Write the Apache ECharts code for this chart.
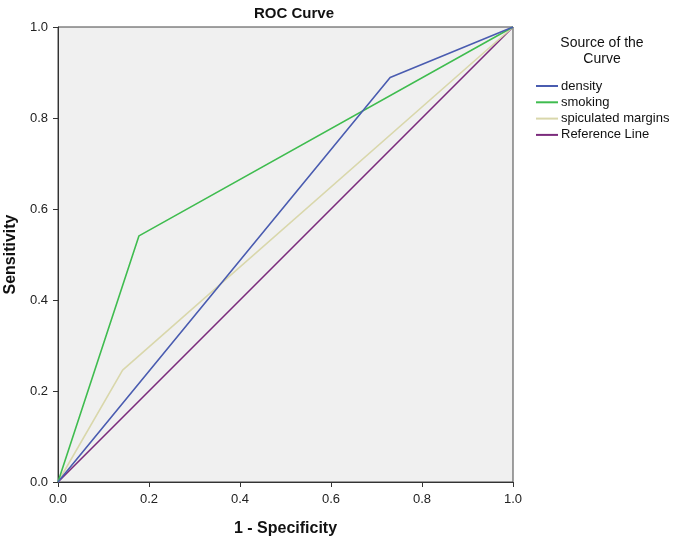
<!DOCTYPE html>
<html>
<head>
<meta charset="utf-8">
<script src="https://cdn.jsdelivr.net/npm/echarts@6/dist/echarts.min.js"></script>
<style>html,body{margin:0;padding:0;background:#fff;}#c{width:675px;height:549px;}</style>
</head>
<body>
<div id="c"></div>
<script>
var seriesNames = ['density', 'smoking', 'spiculated margins', 'Reference Line'];
var densityX = [0, 0.730, 1];
var densityY = [0, 0.889, 1];
var smokingX = [0, 0.178, 1];
var smokingY = [0, 0.541, 1];
var spicX = [0, 0.142, 1];
var spicY = [0, 0.246, 1];
var refX = [0, 1];
var refY = [0, 1];
var colors = ['#4a5cb0', '#3fbc4f', '#d9d7ab', '#7b2b7c'];

function pts(xs, ys) { return xs.map(function (x, i) { return [x, ys[i]]; }); }

var chart = echarts.init(document.getElementById('c'));
var font = 'Arial, "Liberation Sans", sans-serif';
var data = [pts(densityX, densityY), pts(smokingX, smokingY), pts(spicX, spicY), pts(refX, refY)];
chart.setOption({
  animation: false,
  backgroundColor: '#ffffff',
  title: {
    text: 'ROC Curve', left: 289, top: 1, textAlign: 'center',
    textStyle: { fontFamily: font, fontSize: 15, fontWeight: 'bold', color: '#111' }
  },
  grid: { left: 58, top: 27, width: 455, height: 455, outerBoundsMode: 'none', containLabel: false, show: true, backgroundColor: '#f0f0f0', borderColor: '#444', borderWidth: 1 },
  xAxis: {
    type: 'value', min: 0, max: 1, interval: 0.2,
    name: '1 - Specificity', nameLocation: 'middle', nameGap: 39,
    nameTextStyle: { fontFamily: font, fontSize: 16, fontWeight: 'bold', color: '#111' },
    axisLine: { show: true, lineStyle: { color: '#333', width: 1 } },
    axisTick: { show: true, length: 5, lineStyle: { color: '#333' } },
    splitLine: { show: false },
    axisLabel: { fontFamily: font, fontSize: 13, color: '#222', margin: 11, formatter: function (v) { return v.toFixed(1); } }
  },
  yAxis: {
    type: 'value', min: 0, max: 1, interval: 0.2,
    name: 'Sensitivity', nameLocation: 'middle', nameGap: 34, nameRotate: 90,
    nameTextStyle: { fontFamily: font, fontSize: 16, fontWeight: 'bold', color: '#111' },
    axisLine: { show: true, lineStyle: { color: '#333', width: 1 } },
    axisTick: { show: true, length: 5, lineStyle: { color: '#333' } },
    splitLine: { show: false },
    axisLabel: { fontFamily: font, fontSize: 13, color: '#222', margin: 10, formatter: function (v) { return v.toFixed(1); } }
  },
  legend: {
    orient: 'vertical', left: 536, top: 78, itemGap: 0.3, padding: 0,
    icon: 'rect', itemWidth: 22, itemHeight: 2,
    data: seriesNames,
    textStyle: { fontFamily: font, fontSize: 13, color: '#111', height: 16, lineHeight: 16, padding: [0, 0, 0, -2] }
  },
  graphic: [{
    type: 'text', x: 602, y: 35,
    style: { text: 'Source of the\nCurve', fontFamily: font, fontSize: 14, fill: '#111', align: 'center', lineHeight: 16 }
  }],
  series: seriesNames.map(function (n, i) {
    return {
      name: n, type: 'line', data: data[i], showSymbol: false, symbol: 'none',
      lineStyle: { color: colors[i], width: 1.6 }, itemStyle: { color: colors[i] }, z: 10 - i
    };
  })
});
</script>
</body>
</html>
